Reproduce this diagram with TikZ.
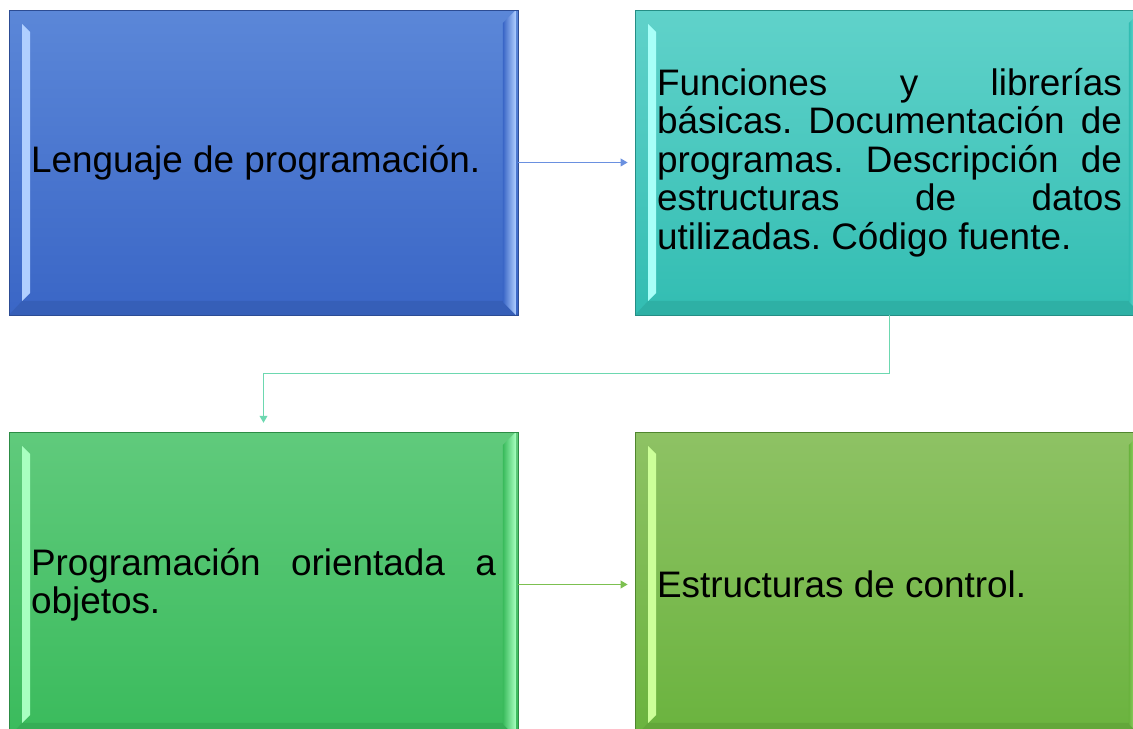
\documentclass[tikz,border=0pt]{standalone}
\usepackage{fontspec}
\setmainfont{Liberation Sans}
\usepackage{tikz}
\usetikzlibrary{positioning, arrows.meta, calc}

\definecolor{bluetop}{HTML}{5B87D8}
\definecolor{bluebot}{HTML}{3A66C6}
\definecolor{bluehi}{HTML}{B0CFFF}
\definecolor{tealtop}{HTML}{60D2CA}
\definecolor{tealbot}{HTML}{32BDB2}
\definecolor{tealhi}{HTML}{A8FFF8}
\definecolor{greentop}{HTML}{60CA7C}
\definecolor{greenbot}{HTML}{3ABB5C}
\definecolor{greenhi}{HTML}{A8FFC0}
\definecolor{limetop}{HTML}{8EC264}
\definecolor{limebot}{HTML}{6AB33E}
\definecolor{limehi}{HTML}{CCFF99}
\definecolor{linkblue}{HTML}{6A90E0}
\definecolor{linkmint}{HTML}{6DD8B0}
\definecolor{linklime}{HTML}{7CC050}
\newcommand{\panelfont}{\fontsize{21}{21.9}\selectfont\frenchspacing}

\begin{document}
\begin{tikzpicture}[
  x=0.02cm, y=0.02cm,
  panel/.style={draw=#1bot!75!black, line width=0.5pt,
                top color=#1top, bottom color=#1bot,
                minimum width=10.18cm, minimum height=6.1cm, inner sep=0pt,
                text width=9.3cm, align=justify, font=\panelfont,
                path picture={
                  \coordinate (nw) at (path picture bounding box.north west);
                  \coordinate (se) at (path picture bounding box.south east);
                  % bottom facet
                  \fill[#1bot!93!black] (nw|-se) -- ++(13,14) -- ($(se)+(-13,14)$) -- (se) -- cycle;
                  % left highlight
                  \fill[#1hi] ($(nw)+(13,-14)$) -- ++(8,-8) -- ($(nw|-se)+(21,22)$) -- ++(-8,-8) -- cycle;
                  % right highlight
                  \shade[left color=#1bot, right color=#1hi]
                    ($(se|-nw)+(-15,-13)$) -- ++(13,13) -- ($(se)+(-2,0)$) -- ++(-13,13) -- cycle;
                }},
  link/.style={line width=0.7pt, -{Triangle[length=4pt, width=4.5pt]}},
]
  \clip (0,0) rectangle (1133,729);

  % Panels
  \node[panel=blue]  (lang) at (263.5,566.5) {Lenguaje de programación.};
  \node[panel=teal]  (func) at (889.5,566.5) {Funciones y librerías\linebreak
    básicas. Documentación de\linebreak programas. Descripción de\linebreak
    estructuras de datos\linebreak utilizadas. Código fuente.};
  \node[panel=green] (poo)  at (263.5,144.5) {Programación orientada a\linebreak objetos.};
  \node[panel=lime]  (ctrl) at (889.5,144.5) {Estructuras de control.};

  % Connectors
  \draw[link, draw=linkblue, shorten >=4] (lang.east) -- (func.west);
  \draw[link, draw=linkmint, shorten >=5] (func.south) -- ++(0,-58) -| (poo.north);
  \draw[link, draw=linklime, shorten >=4] (poo.east) -- (ctrl.west);

\end{tikzpicture}
\end{document}
